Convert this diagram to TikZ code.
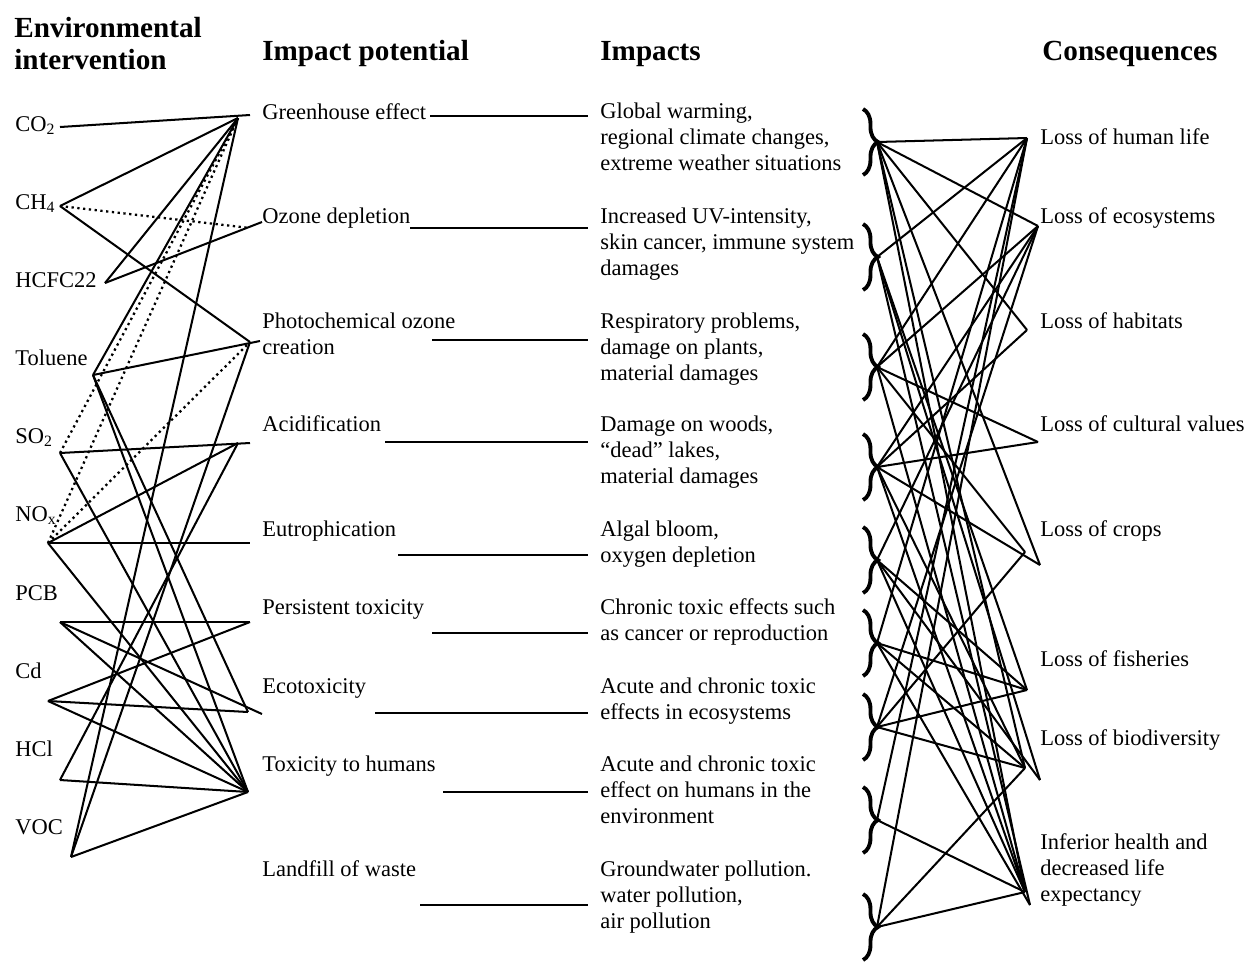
\documentclass[tikz,border=0pt]{standalone}
\usepackage{fontspec}
\setmainfont{Liberation Serif}
\usetikzlibrary{decorations.pathreplacing}

\tikzset{
  lbl/.style={anchor=base west, inner sep=0pt, font=\fontsize{12.8}{14.7}\selectfont},
  blk/.style={anchor=north west, inner sep=0pt, align=left, font=\fontsize{12.8}{14.7}\selectfont},
  hdr/.style={anchor=base west, inner sep=0pt, align=left, font=\fontsize{16.6}{18}\selectfont\bfseries},
  ln/.style={line width=1.15pt},
  dl/.style={line width=1.3pt, dotted},
  brc/.style={decorate, decoration={brace, amplitude=8.5pt}, line width=2.2pt},
}

\begin{document}
\begin{tikzpicture}[x=0.02cm, y=-0.02cm]
	\useasboundingbox (0,0) rectangle (1247,961);

	% headers
	\node[hdr] (hEnv) at (14,37) {Environmental};
	\node[hdr] (hInt) at (14,69) {intervention};
	\node[hdr] (hPot) at (262,60) {Impact potential};
	\node[hdr] (hImp) at (600,60) {Impacts};
	\node[hdr] (hCon) at (1042,60) {Consequences};

	% environmental interventions
	\node[lbl] (tCO) at (15,131) {CO\textsubscript{2}};
	\node[lbl] (tCH) at (15,209) {CH\textsubscript{4}};
	\node[lbl] (tHC) at (15,287) {HCFC22};
	\node[lbl] (tTo) at (15,365) {Toluene};
	\node[lbl] (tSO) at (15,443) {SO\textsubscript{2}};
	\node[lbl] (tNO) at (15,521) {NO\textsubscript{x}};
	\node[lbl] (tPC) at (15,600) {PCB};
	\node[lbl] (tCd) at (15,678) {Cd};
	\node[lbl] (tHl) at (15,756) {HCl};
	\node[lbl] (tVO) at (15,834) {VOC};

	\coordinate (co2) at (60,127);
	\coordinate (ch4) at (60,206);
	\coordinate (hcfc) at (105,283);
	\coordinate (tol) at (93,375);
	\coordinate (so2) at (60,453);
	\coordinate (nox) at (48,543);
	\coordinate (pcb) at (60,622);
	\coordinate (cd) at (48,701);
	\coordinate (hcl) at (60,780);
	\coordinate (voc) at (71,857);

	% impact potentials
	\node[blk] (pG) at (262,101) {\strut Greenhouse effect};
	\node[blk] (pO) at (262,205) {\strut Ozone depletion};
	\node[blk] (pP) at (262,310) {\strut Photochemical ozone\\creation};
	\node[blk] (pA) at (262,413) {\strut Acidification};
	\node[blk] (pE) at (262,518) {\strut Eutrophication};
	\node[blk] (pT) at (262,596) {\strut Persistent toxicity};
	\node[blk] (pX) at (262,675) {\strut Ecotoxicity};
	\node[blk] (pH) at (262,753) {\strut Toxicity to humans};
	\node[blk] (pL) at (262,858) {\strut Landfill of waste};

	\coordinate (ghg) at (238,118);
	\coordinate (ghg2) at (250,115);
	\coordinate (ozo) at (250,228);
	\coordinate (ozo2) at (262,222);
	\coordinate (pho) at (250,342);
	\coordinate (pho2) at (260,341);
	\coordinate (aci) at (238,443);
	\coordinate (aci2) at (250,443);
	\coordinate (eut) at (250,543);
	\coordinate (per) at (250,622);
	\coordinate (eco) at (248,712);
	\coordinate (eco2) at (262,714);
	\coordinate (hum) at (248,792);

	% impacts
	\node[blk] (iG) at (600,100) {\strut Global warming,\\regional climate changes,\\extreme weather situations};
	\node[blk] (iO) at (600,205) {\strut Increased UV-intensity,\\skin cancer, immune system\\damages};
	\node[blk] (iP) at (600,310) {\strut Respiratory problems,\\damage on plants,\\material damages};
	\node[blk] (iA) at (600,413) {\strut Damage on woods,\\``dead'' lakes,\\material damages};
	\node[blk] (iE) at (600,518) {\strut Algal bloom,\\oxygen depletion};
	\node[blk] (iT) at (600,596) {\strut Chronic toxic effects such\\as cancer or reproduction};
	\node[blk] (iX) at (600,675) {\strut Acute and chronic toxic\\effects in ecosystems};
	\node[blk] (iH) at (600,753) {\strut Acute and chronic toxic\\effect on humans in the\\environment};
	\node[blk] (iL) at (600,858) {\strut Groundwater pollution.\\water pollution,\\air pollution};

	% potential -> impact
	\foreach \n/\y/\x in {G/116/430, O/228/410, P/340/432, A/442/385, E/555/398, T/633/432, X/713/375, H/792/443, L/905/420}{
		\coordinate (s\n) at (\x,\y);
		\coordinate (e\n) at (588,\y);
		\draw[ln] (s\n) -- (e\n);
	}

	% interventions -> potentials
	\foreach \a/\b in {co2/ghg2, ch4/ghg, ch4/pho, hcfc/ghg, hcfc/ozo2,
		tol/ghg, tol/pho2, tol/eco, tol/hum, so2/aci2, so2/hum,
		nox/aci, nox/eut, nox/hum, pcb/per, pcb/eco2, pcb/hum,
		cd/per, cd/eco, cd/hum, hcl/aci, hcl/hum, voc/ghg, voc/pho, voc/hum}{
		\draw[ln] (\a) -- (\b);
	}
	\foreach \a/\b in {ch4/ozo, so2/ghg, nox/ghg, nox/pho}{
		\draw[dl] (\a) -- (\b);
	}

	% consequences
	\node[lbl] (cHL) at (1040,144) {Loss of human life};
	\node[lbl] (cEc) at (1040,223) {Loss of ecosystems};
	\node[lbl] (cHb) at (1040,328) {Loss of habitats};
	\node[lbl] (cCu) at (1040,431) {Loss of cultural values};
	\node[lbl] (cCr) at (1040,536) {Loss of crops};
	\node[lbl] (cFi) at (1040,666) {Loss of fisheries};
	\node[lbl] (cBi) at (1040,745) {Loss of biodiversity};
	\node[blk] (cHe) at (1040,831) {\strut Inferior health and\\decreased life\\expectancy};

	\coordinate (hl) at (1027,138);
	\coordinate (ec) at (1038,226);
	\coordinate (hb) at (1027,330);
	\coordinate (cu) at (1038,442);
	\coordinate (cr) at (1025,552);
	\coordinate (cr2) at (1040,565);
	\coordinate (fi) at (1027,690);
	\coordinate (bi) at (1025,768);
	\coordinate (bi2) at (1040,780);
	\coordinate (he) at (1025,892);
	\coordinate (he2) at (1030,905);

	% braces
	\foreach \n/\y in {1/142, 2/257, 3/367, 4/467, 5/560, 6/643, 7/727, 8/820, 9/927}{
		\draw[brc] (863,\y-33) -- (863,\y+33);
		\coordinate (b\n) at (877,\y);
	}

	% impacts -> consequences
	\foreach \a/\b in {b1/hl, b1/ec, b1/hb, b1/cr2, b1/bi, b1/he,
		b2/hl, b2/bi2, b2/he2, b2/fi,
		b3/hl, b3/cu, b3/cr, b3/he, b3/ec,
		b4/hb, b4/ec, b4/cu, b4/cr2, b4/bi, b4/he,
		b5/ec, b5/fi, b5/bi2, b5/he,
		b6/hl, b6/fi, b6/bi, b6/he2,
		b7/ec, b7/fi, b7/bi, b7/cr,
		b8/hl, b8/he, b9/hl, b9/bi, b9/he}{
		\draw[ln] (\a) -- (\b);
	}
\end{tikzpicture}
\end{document}
